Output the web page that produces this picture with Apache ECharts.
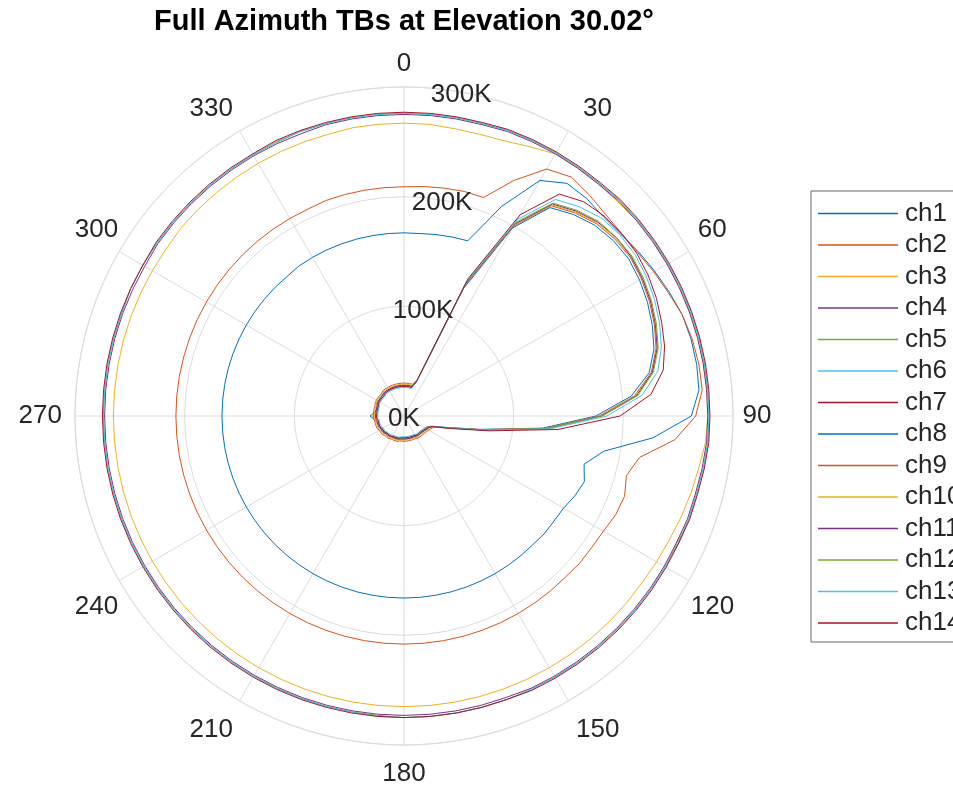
<!DOCTYPE html>
<html><head><meta charset="utf-8">
<script src="https://cdn.jsdelivr.net/npm/echarts@6.0.0/dist/echarts.min.js"></script>
<style>html,body{margin:0;padding:0;background:#fff}#c{width:953px;height:786px}</style>
</head><body><div id="c"></div>
<script>
const theta = [0,5,10,15,20,25,30,35,40,45,50,55,60,65,70,75,80,85,90,95,100,105,110,115,120,125,130,135,140,145,150,155,160,165,170,175,180,185,190,195,200,205,210,215,220,225,230,235,240,245,250,255,260,265,270,275,280,285,290,295,300,305,310,315,320,325,330,335,340,345,350,355,360];
const ch1 = [167,167,168,169,170,
 211,248,259,259,257,258,261,
 264,267,270,271,271,270,262,
 228,185,170,175,172,168,167,
 167,166,166,166,166,166,166,166,166,166,166,
 166,166,166,166,166,166,166,166,166,166,166,166,166,166,166,166,166,166,
 166,166,166,166,166,166,166,166,166,166,167,167,167,167,167,167,167,167];
const ch2 = [209,210,211,212,212,
 237,260,266,263,260,259,260,
 263,266,270,272,273,273,266,
 248,218,210,214,213,210,209,
 209,208,208,208,208,208,208,208,208,208,208,
 208,208,208,208,208,208,208,208,208,208,208,208,208,208,208,208,208,208,
 208,208,208,208,208,208,208,208,208,208,208,208,208,209,209,209,209,209];
const ch3 = [267,267,266,266,267,
 271,276,276,276,276,277,277,
 277,277,277,277,277,277,277,
 276,273,271,269,267,266,265,
 265,265,265,265,265,265,265,265,265,265,265,
 265,265,265,265,265,265,265,265,265,265,265,265,265,265,265,265,265,265,
 265,265,265,265,265,265,265,266,266,266,266,266,266,266,266,267,267,267];
const ch4 = [275,275,275,275,276,
 276,276,276,276,277,277,277,
 277,277,277,277,277,277,277,
 277,276,275,275,274,274,274,
 274,274,274,274,274,274,273,273,273,273,273,
 273,273,273,273,273,273,273,273,273,273,273,273,273,273,273,273,273,273,
 273,273,273,273,273,273,274,274,274,274,274,274,274,274,275,275,275,275];
const ch5 = [276,276,276,276,277,
 277,277,277,277,278,278,278,
 278,278,278,278,278,278,278,
 278,277,276,276,275,275,275,
 275,275,275,275,275,275,275,275,275,275,275,
 274,274,274,274,274,274,274,274,274,274,274,274,274,274,274,274,274,274,
 274,274,274,274,275,275,275,275,275,275,275,275,276,276,276,276,276,276];
const ch6 = [276,276,276,276,277,
 277,277,277,277,278,278,278,
 278,278,278,278,278,278,278,
 278,277,276,276,276,275,275,
 275,275,275,275,275,275,275,275,275,275,275,
 275,274,274,274,274,274,274,274,274,274,274,274,274,274,274,274,274,274,
 274,274,274,274,275,275,275,275,275,275,275,275,275,276,276,276,276,276];
const ch7 = [277,277,277,277,278,
 278,278,278,278,279,279,279,
 279,279,279,279,279,279,279,
 279,278,277,277,276,276,276,
 276,276,276,276,276,276,275,275,275,275,275,
 275,275,275,275,275,275,275,275,275,275,275,275,275,275,275,275,275,275,
 275,275,275,275,275,275,276,276,276,276,276,276,277,277,277,277,277,277];
const ch8 = [28,28,28,28,32,
 128,198,232,240,246,249,250,
 248,245,241,236,227,208,175,
 127,70,40,28,25,24,23,
 22,22,22,21,21,21,21,21,21,21,21,
 21,21,21,22,22,22,22,23,23,23,24,24,24,25,25,26,28,31,
 28,26,26,26,27,27,27,27,27,28,28,28,28,28,28,28,28,28];
const ch9 = [30,30,30,30,34,
 131,200,234,242,248,251,252,
 250,247,243,238,229,211,178,
 129,72,43,30,27,26,25,
 25,24,24,24,24,23,23,23,23,23,23,
 23,23,24,24,24,24,25,25,25,26,26,26,27,27,27,27,28,28,
 28,28,28,28,29,29,29,29,29,30,30,30,30,30,30,30,30,30];
const ch10 = [29,29,29,29,34,
 132,201,235,243,249,252,253,
 251,248,244,239,230,212,179,
 130,72,42,29,26,25,24,
 24,23,23,23,23,22,22,22,22,22,22,
 22,22,23,23,23,23,24,24,24,25,25,25,26,26,26,26,27,27,
 27,27,27,27,28,28,28,28,28,29,29,29,29,29,29,29,29,29];
const ch11 = [28,28,28,28,34,
 133,202,236,244,250,253,253,
 251,248,244,239,230,213,180,
 131,73,42,28,25,24,23,
 23,22,22,22,22,21,21,21,21,21,21,
 21,21,22,22,22,22,23,23,23,24,24,24,25,25,25,25,26,26,
 26,26,26,26,27,27,27,27,27,28,28,28,28,28,28,28,28,28];
const ch12 = [27,27,27,27,34,
 134,204,237,245,251,253,254,
 252,249,245,240,231,214,181,
 131,73,42,28,24,23,22,
 22,21,21,21,21,20,20,20,20,20,20,
 20,20,21,21,21,21,22,22,22,23,23,23,24,24,24,24,25,25,
 25,25,25,25,26,26,26,26,26,27,27,27,27,27,27,27,27,27];
const ch13 = [26,26,26,26,34,
 136,207,241,249,255,257,257,
 255,252,248,243,235,218,185,
 134,75,42,27,23,22,21,
 21,20,20,20,20,19,19,19,19,19,19,
 19,19,20,20,20,20,21,21,21,22,22,22,23,23,23,23,24,24,
 24,24,24,24,25,25,25,25,25,26,26,26,26,26,26,26,26,26];
const ch14 = [27,27,27,27,35,
 138,212,247,255,258,259,259,
 257,254,250,246,240,226,197,
 141,78,44,28,24,23,22,
 22,21,21,21,21,20,20,20,20,20,20,
 20,20,21,21,21,21,22,22,22,23,23,23,24,24,24,24,25,25,
 25,25,25,25,26,26,26,26,26,27,27,27,27,27,27,27,27,27];

const seriesNames = ['ch1','ch2','ch3','ch4','ch5','ch6','ch7','ch8','ch9','ch10','ch11','ch12','ch13','ch14'];
const seriesValues = [ch1,ch2,ch3,ch4,ch5,ch6,ch7,ch8,ch9,ch10,ch11,ch12,ch13,ch14];
const thetaTicks = [0,30,60,90,120,150,180,210,240,270,300,330];
const rTicks = [0,100,200,300];
const rTickLabels = ['0K','100K','200K','300K'];
const rLabelAngle = 10;
const titleText = 'Full Azimuth TBs at Elevation 30.02°';

const palette = ['#0072BD','#D95319','#EDB120','#7E2F8E','#77AC30','#4DBEEE','#A2142F'];
const FONT = '"Liberation Sans", Arial, Helvetica, sans-serif';
const TXT = '#262626';
const GRID = '#dcdcdc';

// per-label padding [top,right,bottom,left] to mimic MATLAB theta-label placement
const labelPad = {
  0:[0,0,19,0], 30:[0,0,17,14], 60:[0,0,17,8], 90:[0,0,0,8.5],
  120:[26,0,0,1], 150:[30,0,0,7], 180:[29,0,0,0], 210:[30,6,0,0],
  240:[26,0,0,0], 270:[0,12,0,0], 300:[0,0,17,0], 330:[0,6,17,0]
};
const rich = {};
thetaTicks.forEach(t => {
  rich['a' + t] = {fontFamily: FONT, fontSize: 26, lineHeight: 26, color: TXT, padding: labelPad[t]};
});

const chart = echarts.init(document.getElementById('c'), null, {renderer:'canvas', width:953, height:786});

const series = seriesValues.map((vals, i) => ({
  name: seriesNames[i],
  type: 'line',
  coordinateSystem: 'polar',
  symbol: 'none',
  showSymbol: false,
  smooth: false,
  animation: false,
  z: 2,
  lineStyle: {width: 1, color: palette[i % 7]},
  itemStyle: {color: palette[i % 7]},
  data: vals.map((r, j) => [r, theta[j]])
}));

series.push({
  name: 'rlabels',
  type: 'scatter',
  coordinateSystem: 'polar',
  symbol: 'circle',
  symbolSize: 1,
  silent: true,
  z: 5,
  itemStyle: {color: 'rgba(255,255,255,0)', opacity: 1},
  label: {
    show: true, position: [0.5, 3.5], align: 'center', verticalAlign: 'middle',
    fontFamily: FONT, fontSize: 26, color: TXT, opacity: 1,
    formatter: p => rTickLabels[p.dataIndex]
  },
  labelLayout: {hideOverlap: false},
  data: rTicks.map(r => [r, rLabelAngle])
});

chart.setOption({
  backgroundColor: '#fff',
  animation: false,
  polar: {center: [404, 416], radius: 329},
  angleAxis: {
    type: 'value', min: 0, max: 360, interval: 30, startAngle: 90, clockwise: true,
    axisLine: {show: true, lineStyle: {color: GRID, width: 1}},
    axisTick: {show: false},
    splitLine: {show: true, lineStyle: {color: GRID, width: 1}},
    axisLabel: {show: true, margin: 1, fontFamily: FONT, fontSize: 26, color: TXT,
      formatter: v => (v === 360 ? '' : '{a' + v + '|' + v + '}'),
      rich: rich}
  },
  radiusAxis: {
    type: 'value', min: 0, max: 300, interval: 100,
    axisLine: {show: false}, axisTick: {show: false}, axisLabel: {show: false},
    splitLine: {show: true, lineStyle: {color: GRID, width: 1}}
  },
  legend: {
    data: seriesNames,
    orient: 'vertical',
    left: 811, top: 191,
    padding: [9.5, 60, 6, 7],
    itemGap: 5.5,
    itemWidth: 80, itemHeight: 1.5,
    icon: 'rect',
    borderColor: '#666', borderWidth: 1,
    backgroundColor: '#fff',
    selectedMode: false,
    textStyle: {fontFamily: FONT, fontSize: 26, color: TXT, lineHeight: 26, padding: [0,0,0,2]}
  },
  graphic: [{
    type: 'text', x: 404, y: 22,
    style: {text: titleText, font: 'bold 29px ' + FONT, fill: '#000', align: 'center', verticalAlign: 'middle'}
  }],
  series: series
});
</script></body></html>
